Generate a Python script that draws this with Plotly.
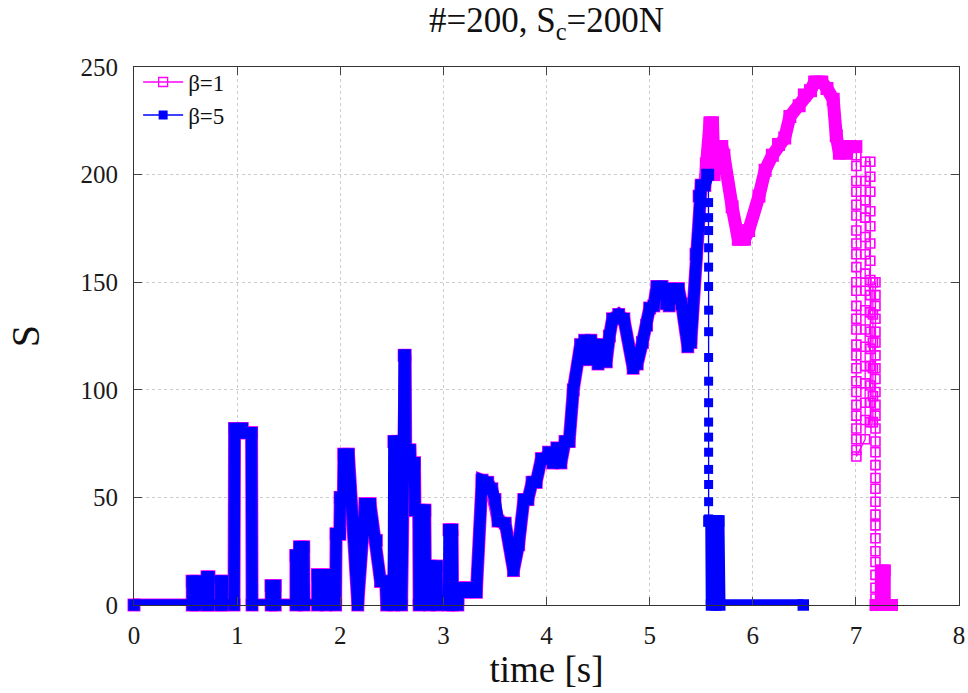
import plotly.graph_objects as go

# ---------------- data ----------------
title_text = "#=200, S<sub>c</sub>=200N"
x_title = "time [s]"
y_title = "S"
x_ticks = [0, 1, 2, 3, 4, 5, 6, 7, 8]
y_ticks = [0, 50, 100, 150, 200, 250]
series_names = ["β=1", "β=5"]

# part of the signal shared by both runs (t in s, S)
t_common = [0.00, 0.565, 0.565, 0.60, 0.60, 0.71, 0.71, 0.725, 0.725, 0.84, 0.84, 0.855, 0.855,
            0.97, 0.975, 1.05, 1.06, 1.14, 1.145, 1.33, 1.33, 1.37, 1.37,
            1.57, 1.57, 1.60, 1.605, 1.645, 1.65, 1.78, 1.78, 1.855, 1.86,
            1.955, 1.96, 1.995, 2.00, 2.03, 2.035, 2.08, 2.17, 2.24, 2.29, 2.35, 2.39, 2.44, 2.45,
            2.515, 2.52, 2.55, 2.555, 2.56, 2.59, 2.595, 2.60, 2.615, 2.62, 2.63, 2.635, 2.675,
            2.68, 2.72, 2.725, 2.76, 2.765, 2.775, 2.82, 2.825, 2.86, 2.865, 2.875, 2.935, 2.94,
            3.05, 3.055, 3.085, 3.09, 3.14, 3.145, 3.22, 3.225, 3.32, 3.375, 3.43, 3.47, 3.50,
            3.53, 3.60, 3.68, 3.73, 3.78, 3.82, 3.86, 3.90, 3.95, 3.99, 4.02, 4.06, 4.10, 4.14,
            4.18, 4.22, 4.26, 4.33, 4.37, 4.40, 4.43, 4.47, 4.50, 4.54, 4.58, 4.61, 4.64, 4.70,
            4.75, 4.84, 4.88, 4.93, 4.97, 5.00, 5.04, 5.07, 5.12, 5.16, 5.19, 5.22, 5.28, 5.31,
            5.37, 5.40, 5.45, 5.48, 5.50, 5.535]
s_common = [0, 0, 11, 11, 0, 0, 13, 13, 0, 0, 11, 11, 0,
            0, 82, 82, 80, 80, 0, 0, 9, 9, 0,
            0, 23, 23, 27, 27, 0, 0, 14, 14, 0,
            0, 33, 33, 50, 50, 70, 70, 0, 47, 47, 30, 11, 11, 0,
            0, 76, 76, 5, 76, 76, 0, 76, 76, 116, 116, 72, 72,
            66, 66, 44, 44, 0, 44, 44, 18, 18, 0, 18, 18, 0,
            0, 35, 35, 0, 0, 8, 8, 6, 6, 58, 57, 54, 49,
            39, 38, 16, 28, 49, 49, 57, 57, 68, 68, 71, 66, 73, 66,
            76, 76, 100, 121, 123, 114, 123, 121, 112, 121, 113, 125, 133, 135,
            133, 110, 112, 122, 130, 138, 139, 148, 148, 140, 139, 147, 147, 140,
            120, 122, 163, 190, 195, 195]

# beta = 1 : continuation after the shared part
t_b1_tail = [5.55, 5.585, 5.61, 5.625, 5.64, 5.70, 5.72, 5.80, 5.86, 5.92, 5.96, 6.06, 6.12,
             6.19, 6.25, 6.31, 6.36, 6.45, 6.50, 6.56, 6.60, 6.67, 6.72, 6.78, 6.81, 6.84,
             6.91, 6.93, 7.00]
s_b1_tail = [205, 224, 224, 200, 213, 213, 209, 185, 170, 170, 174, 190, 202,
             209, 214, 217, 227, 232, 237, 239, 243, 243, 240, 235, 218, 210,
             210, 213, 213]
# beta = 1 : sparse falling part (open squares)
t_b1_drop = [7.005] * 27 + [7.09] * 16 + [7.14] * 16 + [7.165] * 6 + [7.19] * 28
s_b1_drop = [213, 209, 204, 197, 192, 186, 181, 174, 168, 163, 157, 150, 146, 139, 133, 128,
             121, 116, 110, 104, 99, 93, 88, 82, 77, 72, 69,
             77, 86, 94, 103, 111, 120, 128, 137, 146, 154, 163, 171, 180, 188, 197, 206,
             206, 199, 192, 183, 176, 168, 160, 151, 144, 136, 127, 119, 111, 102, 94, 85,
             85, 97, 110, 122, 135, 150,
             150, 144, 139, 133, 127, 122, 116, 110, 105, 99, 93, 88, 82, 76, 71, 65,
             59, 54, 48, 42, 37, 31, 25, 20, 14, 8, 3, 0]
# beta = 1 : last small burst
t_b1_end = [7.19, 7.25, 7.25, 7.28, 7.28, 7.35]
s_b1_end = [0, 0, 16, 16, 0, 0]

# beta = 5 : continuation after the shared part
t_b5_tail = [5.555, 5.57]
s_b5_tail = [200, 200]
# beta = 5 : sparse drop (filled squares)
t_b5_drop = [5.57] + [5.572] * 18
s_b5_drop = [200, 187, 180, 174, 166, 157, 148, 137, 127, 115, 104, 94, 85, 78, 71, 63, 56, 48, 40]
# beta = 5 : last burst and zero tail
t_b5_end = [5.575, 5.595, 5.60, 5.605, 5.64, 5.645, 5.65, 5.67, 5.68, 6.49]
s_b5_end = [39, 39, 0, 39, 39, 0, 39, 39, 0, 0]

# ---------------- styling ----------------
MAG = "#ff00ff"
BLU = "#0000ff"
FONT = "Liberation Serif"

fig = go.Figure()


def band(x, y, color, width):
    return go.Scatter(x=x, y=y, mode="lines+markers", showlegend=False, cliponaxis=False,
                      line=dict(color=color, width=width),
                      marker=dict(symbol="square", size=width, color=color, line=dict(width=0)),
                      hoverinfo="skip")


# beta = 1 (drawn first, underneath)
fig.add_trace(band(t_common + t_b1_tail, s_common + s_b1_tail, MAG, 13))
fig.add_trace(go.Scatter(x=t_b1_drop, y=s_b1_drop, mode="lines+markers", showlegend=False,
                         cliponaxis=False,
                         line=dict(color=MAG, width=1.3),
                         marker=dict(symbol="square-open", size=9, color=MAG, line=dict(width=1.6)),
                         hoverinfo="skip"))
fig.add_trace(band(t_b1_end, s_b1_end, MAG, 12))

# beta = 5
fig.add_trace(band(t_common + t_b5_tail, s_common + s_b5_tail, BLU, 11.5))
fig.add_trace(go.Scatter(x=t_b5_drop, y=s_b5_drop, mode="lines+markers", showlegend=False,
                         cliponaxis=False,
                         line=dict(color=BLU, width=1.3),
                         marker=dict(symbol="square", size=9, color=BLU),
                         hoverinfo="skip"))
fig.add_trace(band(t_b5_end, s_b5_end, BLU, 11.5))

# legend entries
fig.add_trace(go.Scatter(x=[None], y=[None], name=series_names[0], mode="lines+markers",
                         line=dict(color=MAG, width=1.5),
                         marker=dict(symbol="square-open", size=9, color=MAG, line=dict(width=1.3))))
fig.add_trace(go.Scatter(x=[None], y=[None], name=series_names[1], mode="lines+markers",
                         line=dict(color=BLU, width=1.5),
                         marker=dict(symbol="square", size=9, color=BLU)))

axis_common = dict(
    showline=True, linecolor="#333333", linewidth=1.2, mirror="ticks",
    ticks="inside", ticklen=8, tickwidth=1.2, tickcolor="#444444",
    showgrid=True, gridcolor="#cccccc", griddash="dot", gridwidth=1,
    zeroline=False, ticklabeloverflow="allow",
    tickfont=dict(family=FONT, size=25, color="#1a1a1a"),
)

fig.update_layout(
    width=968, height=693,
    margin=dict(l=134, r=3, t=67, b=88),
    paper_bgcolor="white", plot_bgcolor="white",
    font=dict(family=FONT, size=20, color="#111111"),
    title=dict(text=title_text, x=0.5, xref="paper", y=1 - 20 / 693, yref="container",
               xanchor="center", yanchor="middle",
               font=dict(family=FONT, size=35, color="#111111")),
    xaxis=dict(range=[0, 8], tickvals=x_ticks, ticklabelstandoff=8,
               title=dict(text=x_title, font=dict(family=FONT, size=37, color="#111111"), standoff=4),
               **axis_common),
    yaxis=dict(range=[0, 250], tickvals=y_ticks, ticklabelstandoff=10,
               title=dict(text=y_title, font=dict(family=FONT, size=40, color="#111111"), standoff=28),
               **axis_common),
    legend=dict(x=0.005, y=1.012, xanchor="left", yanchor="top", bgcolor="rgba(0,0,0,0)",
                font=dict(family=FONT, size=23, color="#111111"), tracegroupgap=0,
                itemwidth=40),
    showlegend=True,
)

fig.write_html("out.html")
